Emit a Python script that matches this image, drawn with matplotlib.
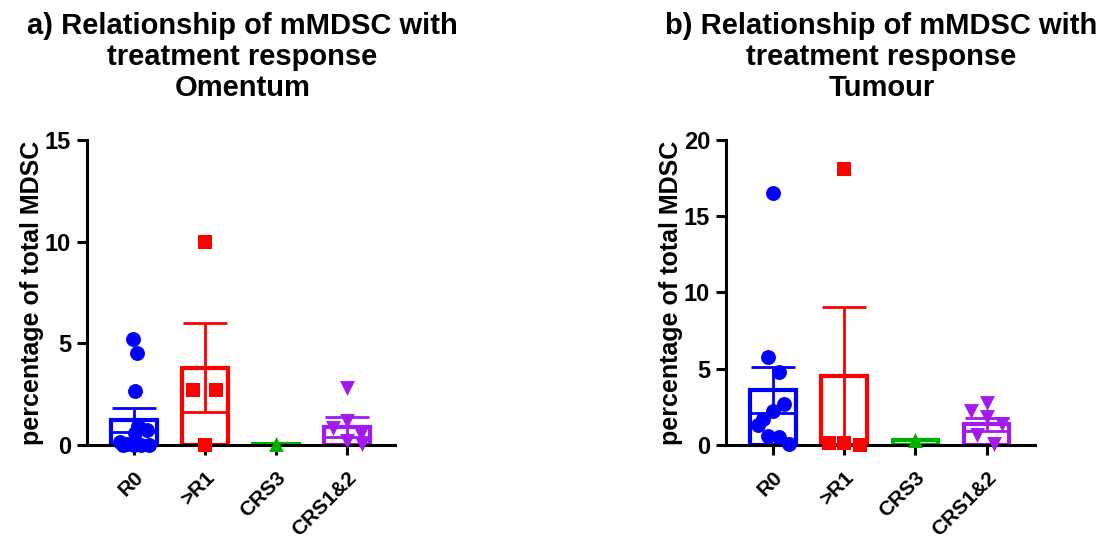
import numpy as np
import matplotlib
matplotlib.use("Agg")
import matplotlib.pyplot as plt

plt.rcParams['font.family'] = ['Liberation Sans', 'DejaVu Sans']
plt.rcParams['font.weight'] = 'bold'

groups = ['R0', '>R1', 'CRS3', 'CRS1&2']
colors = ['#0000FF', '#FF0000', '#00B000', '#A11AF0']
markers = ['o', 's', '^', 'v']

# omentum: individual values, bar means and SEM
om_pts = [
    [5.2, 4.5, 2.65, 0.95, 0.75, 0.6, 0.15, 0.05, 0.0, 0.0, 0.0, 0.0],
    [10.0, 2.7, 2.7, 0.0],
    [0.05],
    [2.8, 1.2, 0.85, 0.55, 0.2, 0.05],
]
om_jit = [
    [-0.01, 0.04, 0.01, 0.06, 0.18, 0.02, -0.2, -0.1, 0.1, 0.22, -0.15, 0.0],
    [0.0, -0.17, 0.16, 0.0],
    [0.0],
    [0.0, 0.0, -0.2, 0.2, 0.0, 0.22],
]
om_mean = [1.23, 3.8, 0.05, 0.9]
om_sem = [0.57, 2.2, 0.0, 0.5]

# tumour
tu_pts = [
    [16.5, 5.75, 4.8, 2.7, 2.2, 1.7, 1.3, 0.6, 0.5, 0.05],
    [18.1, 0.15, 0.15, 0.0],
    [0.35],
    [2.2, 2.75, 1.85, 1.4, 0.65, 0.05],
]
tu_jit = [
    [0.0, -0.07, 0.08, 0.15, 0.0, -0.14, -0.21, -0.07, 0.08, 0.22],
    [0.0, -0.22, 0.0, 0.22],
    [0.0],
    [-0.22, 0.0, 0.0, 0.22, -0.13, 0.1],
]
tu_mean = [3.6, 4.5, 0.3, 1.35]
tu_sem = [1.5, 4.55, 0.0, 0.42]

fig = plt.figure(figsize=(11.06, 5.43), dpi=100)
ax1 = fig.add_axes([0.0787, 0.1805, 0.2785, 0.5617])
ax2 = fig.add_axes([0.6564, 0.1805, 0.2794, 0.5617])


def panel(ax, pts, jit, means, sems, ymax):
    x = np.arange(len(groups))
    for i in range(len(groups)):
        ax.bar(x[i], means[i], width=0.64, facecolor='none', edgecolor=colors[i],
               linewidth=3, zorder=2)
        if sems[i] > 0:
            ax.errorbar(x[i], means[i], yerr=sems[i], color=colors[i], capsize=16,
                        elinewidth=2, capthick=2, zorder=3)
        px = x[i] + np.array(jit[i])
        ax.scatter(px, pts[i], marker=markers[i], s=115, color=colors[i],
                   linewidths=0, zorder=4, clip_on=False)
    ax.set_xlim(-0.66, 3.68)
    ax.set_ylim(0, ymax)
    ax.set_yticks(np.arange(0, ymax + 1, 5))
    ax.set_xticks(x)
    ax.set_xticklabels(groups, rotation=45, ha='right', rotation_mode='anchor',
                       fontsize=15, fontweight='bold')
    for lab in ax.get_yticklabels():
        lab.set_fontsize(17)
        lab.set_fontweight('bold')
    for s in ['top', 'right']:
        ax.spines[s].set_visible(False)
    for s in ['left', 'bottom']:
        ax.spines[s].set_linewidth(2.2)
    ax.tick_params(width=2.2, length=7.5)
    ax.tick_params(axis='y', pad=4)
    ax.tick_params(axis='x', pad=9)
    ax.set_ylabel('percentage of total MDSC', fontsize=18, fontweight='bold')
    ax.yaxis.set_label_coords(-0.14, 0.5)


panel(ax1, om_pts, om_jit, om_mean, om_sem, 15)
panel(ax2, tu_pts, tu_jit, tu_mean, tu_sem, 20)

fig.text(0.219, 0.895, 'a) Relationship of mMDSC with\ntreatment response\nOmentum',
         ha='center', va='center', fontsize=21, fontweight='bold', linespacing=1.12)
fig.text(0.797, 0.895, 'b) Relationship of mMDSC with\ntreatment response\nTumour',
         ha='center', va='center', fontsize=21, fontweight='bold', linespacing=1.12)

fig.savefig('out.png', dpi=100)
